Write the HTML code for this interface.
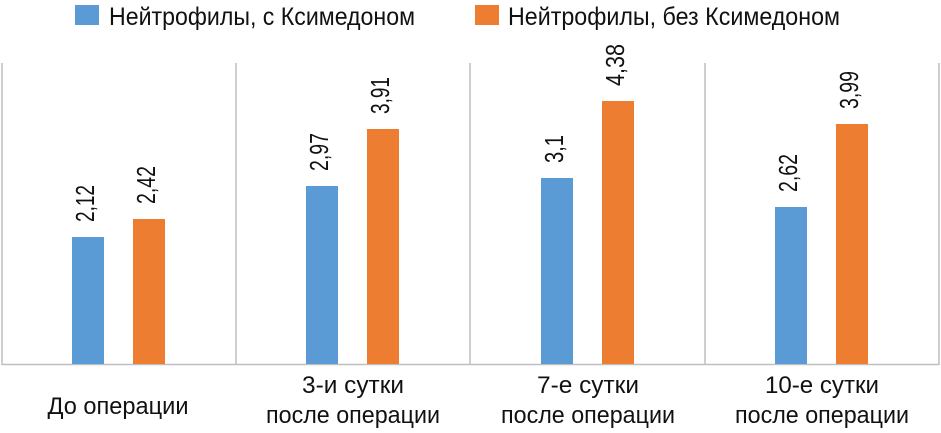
<!DOCTYPE html>
<html><head><meta charset="utf-8"><style>
html,body{margin:0;padding:0;background:#fff;}
svg{display:block;font-family:"Liberation Sans Narrow","Liberation Sans",sans-serif;}
</style></head><body>
<svg width="941" height="433" viewBox="0 0 941 433" xmlns="http://www.w3.org/2000/svg">
<rect x="75" y="5" width="24" height="20" fill="#5b9bd5"/>
<text x="109" y="25" font-size="25" textLength="306" lengthAdjust="spacingAndGlyphs" fill="#111">Нейтрофилы, с Ксимедоном</text>
<rect x="475" y="5" width="24" height="20" fill="#ed7d31"/>
<text x="508" y="25" font-size="25" textLength="332" lengthAdjust="spacingAndGlyphs" fill="#111">Нейтрофилы, без Ксимедоном</text>
<g stroke="#bfbfbf" stroke-width="1.5">
<line x1="2" y1="63" x2="2" y2="365"/>
<line x1="236" y1="63" x2="236" y2="365"/>
<line x1="470" y1="63" x2="470" y2="365"/>
<line x1="705" y1="63" x2="705" y2="365"/>
<line x1="939" y1="63" x2="939" y2="365"/>
<line x1="2" y1="364.5" x2="939" y2="364.5"/>
</g>
<g fill="#5b9bd5">
<rect x="72" y="237" width="32" height="127"/>
<rect x="306" y="186" width="32" height="178"/>
<rect x="541" y="178" width="32" height="186"/>
<rect x="775" y="207" width="32" height="157"/>
</g>
<g fill="#ed7d31">
<rect x="133" y="219" width="32" height="145"/>
<rect x="367" y="129" width="32" height="235"/>
<rect x="602" y="101" width="32" height="263"/>
<rect x="836" y="124" width="32" height="240"/>
</g>
<g font-size="26" fill="#111" lengthAdjust="spacingAndGlyphs">
<text transform="translate(94,222) rotate(-90)" textLength="37" lengthAdjust="spacingAndGlyphs">2,12</text>
<text transform="translate(155,204) rotate(-90)" textLength="38" lengthAdjust="spacingAndGlyphs">2,42</text>
<text transform="translate(328,171) rotate(-90)" textLength="38" lengthAdjust="spacingAndGlyphs">2,97</text>
<text transform="translate(389,114) rotate(-90)" textLength="37" lengthAdjust="spacingAndGlyphs">3,91</text>
<text transform="translate(563,163) rotate(-90)" textLength="28" lengthAdjust="spacingAndGlyphs">3,1</text>
<text transform="translate(624,86) rotate(-90)" textLength="42" lengthAdjust="spacingAndGlyphs">4,38</text>
<text transform="translate(797,192) rotate(-90)" textLength="38" lengthAdjust="spacingAndGlyphs">2,62</text>
<text transform="translate(858,109) rotate(-90)" textLength="38" lengthAdjust="spacingAndGlyphs">3,99</text>
</g>
<g font-size="24" fill="#111" text-anchor="middle">
<text x="118" y="414" textLength="141" lengthAdjust="spacingAndGlyphs">До операции</text>
<text x="353" y="393" textLength="102" lengthAdjust="spacingAndGlyphs">3-и сутки</text>
<text x="353" y="423" textLength="174" lengthAdjust="spacingAndGlyphs">после операции</text>
<text x="588" y="393" textLength="102" lengthAdjust="spacingAndGlyphs">7-е сутки</text>
<text x="588" y="423" textLength="174" lengthAdjust="spacingAndGlyphs">после операции</text>
<text x="822" y="393" textLength="114" lengthAdjust="spacingAndGlyphs">10-е сутки</text>
<text x="822" y="423" textLength="174" lengthAdjust="spacingAndGlyphs">после операции</text>
</g>
</svg>
</body></html>
